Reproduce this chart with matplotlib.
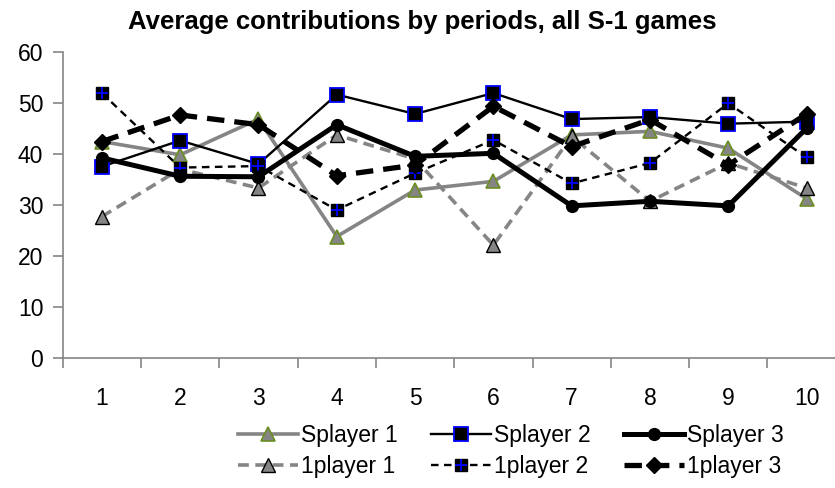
import matplotlib
matplotlib.use("Agg")
import matplotlib.pyplot as plt
from matplotlib.lines import Line2D
from matplotlib.legend_handler import HandlerTuple

plt.rcParams['font.family'] = ['Liberation Sans', 'DejaVu Sans']

periods = [1, 2, 3, 4, 5, 6, 7, 8, 9, 10]
splayer1 = [42.4, 39.8, 46.8, 23.8, 32.9, 34.6, 43.7, 44.4, 41.1, 31.2]
splayer2 = [37.5, 42.6, 38.0, 51.6, 47.8, 51.9, 46.8, 47.2, 45.9, 46.3]
splayer3 = [39.2, 35.6, 35.5, 45.7, 39.5, 40.1, 29.8, 30.7, 29.8, 45.0]
oneplayer1 = [27.7, 37.0, 33.3, 43.7, 39.0, 22.1, 43.4, 30.7, 38.2, 33.3]
oneplayer2 = [51.9, 37.3, 37.6, 29.0, 36.2, 42.7, 34.2, 38.2, 49.9, 39.3]
oneplayer3 = [42.4, 47.6, 45.7, 35.7, 37.8, 49.3, 41.4, 46.7, 37.8, 47.8]
yticks = [0, 10, 20, 30, 40, 50, 60]
title = "Average contributions by periods, all S-1 games"
labels = ['Splayer 1', '1player 1', 'Splayer 2', '1player 2', 'Splayer 3', '1player 3']

fig = plt.figure(figsize=(8.35, 4.88), dpi=100)
ax = fig.add_axes([62.7/835, 1-358/488, (845.7-62.7)/835, (358-51.7)/488])

gray = '#858585'
green = '#6B8E23'

l_s1, = ax.plot(periods, splayer1, color=gray, lw=2.6, marker='^', ms=10,
                mfc=gray, mec=green, mew=1.2, zorder=3)
l_s2, = ax.plot(periods, splayer2, color='black', lw=1.7, marker='s', ms=10,
                mfc='black', mec='#0000FF', mew=1.3, zorder=4)
l_s3, = ax.plot(periods, splayer3, color='black', lw=3.6, marker='o', ms=8.5,
                mfc='black', mec='black', zorder=5)
l_p1, = ax.plot(periods, oneplayer1, color=gray, lw=2.6, ls=(0, (3, 1.8)),
                marker='^', ms=10, mfc=gray, mec='black', mew=1.0, zorder=3)
l_p2, = ax.plot(periods, oneplayer2, color='black', lw=1.7, ls=(0, (3.2, 2.3)),
                marker='s', ms=9, mfc='black', mec='black', zorder=4)
ax.plot(periods, oneplayer2, ls='none', marker='+', ms=9, mec='#0000FF',
        mew=1.3, zorder=4.5)
l_p3, = ax.plot(periods, oneplayer3, color='black', lw=3.8, ls=(0, (3.3, 1.9)),
                marker='D', ms=8.5, mfc='black', mec='black', zorder=5)

ax.set_xlim(0.5, 10.5)
ax.set_ylim(0, 60)
ax.set_yticks(yticks)
ax.set_xticks(periods)
ax.set_xticks([p + 0.5 for p in [0] + periods], minor=True)

for s in ['top', 'right']:
    ax.spines[s].set_visible(False)
for s in ['left', 'bottom']:
    ax.spines[s].set_color(gray)
    ax.spines[s].set_linewidth(1.2)

ax.tick_params(axis='y', which='major', direction='out', length=7, width=1.2,
               color=gray, pad=7, labelsize=16.5)
ax.tick_params(axis='x', which='major', length=0, pad=21, labelsize=16.5)
ax.tick_params(axis='x', which='minor', direction='out', length=7, width=1.2,
               color=gray)

fig.text(422/835, 1-22/488, title, ha='center', va='center',
         fontsize=18.5, fontweight='bold')

p2_plus = Line2D([], [], ls='none', marker='+', ms=9, mec='#0000FF', mew=1.3)

handles = [l_s1, l_p1, l_s2, (l_p2, p2_plus), l_s3, l_p3]
leg = fig.legend(handles, labels, ncol=3, loc='center',
                 bbox_to_anchor=(511/835, 1-451/488), frameon=False,
                 fontsize=16.5, handlelength=2.6, handletextpad=0.15,
                 columnspacing=1.45, labelspacing=0.35,
                 handler_map={tuple: HandlerTuple(ndivide=1, pad=0)})

fig.savefig('out.png', dpi=100)
